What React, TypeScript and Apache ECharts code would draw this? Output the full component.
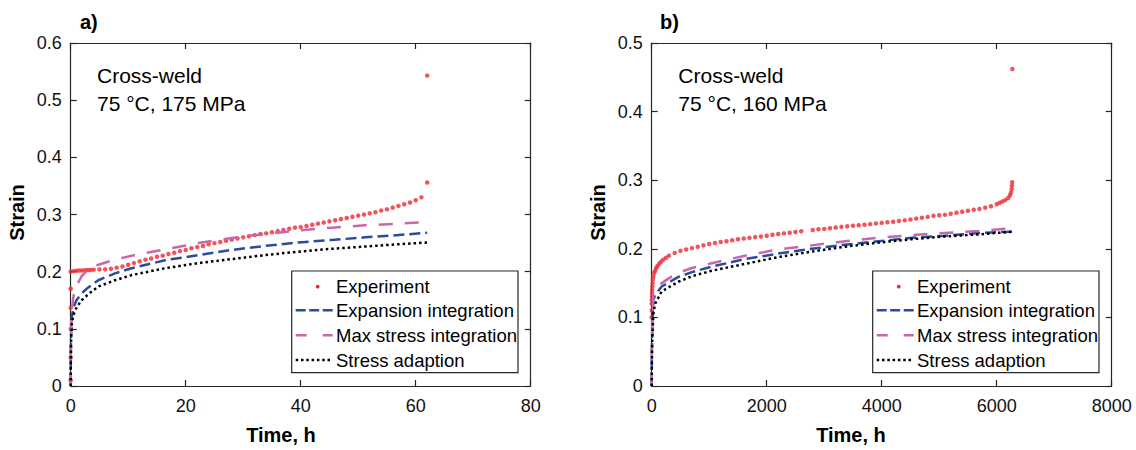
import React, { useEffect, useRef } from "react";
import * as echarts from "echarts";

// ---------- Data: panel a) 75 °C, 175 MPa ----------
const expA: [number, number][] = [
  [0, 0.01], [0, 0.05], [0, 0.1], [0, 0.137], [0, 0.17], [0, 0.2],
  [0.5, 0.201], [1, 0.2015], [1.5, 0.202], [2, 0.202], [2.5, 0.2025], [3, 0.203],
  [3.5, 0.203], [4, 0.2035], [5, 0.204], [6, 0.204], [7, 0.205], [8, 0.207],
  [9, 0.209], [10, 0.212], [11, 0.215], [12, 0.218], [13, 0.221], [14, 0.223],
  [15, 0.226], [16, 0.228], [17, 0.231], [18, 0.233], [19, 0.236], [20, 0.238],
  [21, 0.241], [22, 0.243], [23, 0.245], [24, 0.248], [25, 0.25], [26, 0.252],
  [27, 0.254], [28, 0.256], [29, 0.258], [30, 0.26], [31, 0.262], [32, 0.264],
  [33, 0.266], [34, 0.267], [35, 0.269], [36, 0.271], [37, 0.273], [38, 0.275],
  [39, 0.277], [40, 0.278], [41, 0.28], [42, 0.282], [43, 0.284], [44, 0.286],
  [45, 0.288], [46, 0.29], [47, 0.292], [48, 0.294], [49, 0.296], [50, 0.298],
  [51, 0.3], [52, 0.302], [53, 0.304], [54, 0.307], [55, 0.309], [56, 0.312],
  [57, 0.315], [58, 0.318], [59, 0.321], [60, 0.325], [61, 0.33], [62, 0.356],
  [62, 0.543],
];
const expansionA: [number, number][] = [
  [0, 0], [0.02, 0.05], [0.05, 0.08], [0.1, 0.1], [0.2, 0.121], [0.5, 0.138],
  [1, 0.15], [1.9, 0.162], [3, 0.172], [4.8, 0.185], [7.7, 0.197], [10.6, 0.206],
  [16.4, 0.22], [22.2, 0.229], [28, 0.238], [33.8, 0.245], [39.6, 0.251],
  [45.4, 0.2555], [51.2, 0.26], [57, 0.264], [62, 0.268],
];
const maxStressA: [number, number][] = [
  [0, 0], [0.02, 0.06], [0.05, 0.09], [0.1, 0.115], [0.2, 0.135], [0.5, 0.158],
  [1, 0.175], [1.9, 0.192], [3, 0.203], [4.8, 0.212], [7.7, 0.221], [10.6, 0.228],
  [16.4, 0.239], [22.2, 0.25], [28, 0.259], [33.8, 0.266], [39.6, 0.272],
  [45.4, 0.277], [51.2, 0.281], [57, 0.284], [62, 0.287],
];
const adaptionA: [number, number][] = [
  [0, 0], [0.02, 0.04], [0.05, 0.07], [0.1, 0.09], [0.2, 0.11], [0.5, 0.125],
  [1, 0.137], [1.9, 0.15], [3, 0.16], [4.8, 0.174], [7.7, 0.185], [10.6, 0.194],
  [16.4, 0.206], [22.2, 0.215], [28, 0.222], [33.8, 0.229], [39.6, 0.235],
  [45.4, 0.24], [51.2, 0.244], [57, 0.248], [62, 0.251],
];

// ---------- Data: panel b) 75 °C, 160 MPa ----------
const expB: [number, number][] = [
  [0, 0.1], [1, 0.11], [1, 0.12], [2, 0.125], [4, 0.13], [6, 0.135], [8, 0.14],
  [10, 0.145], [15, 0.15], [20, 0.155], [30, 0.16], [45, 0.165], [60, 0.168],
  [80, 0.172], [100, 0.175], [130, 0.178], [160, 0.181], [200, 0.184], [250, 0.187],
  [300, 0.19], [400, 0.194], [500, 0.197], [600, 0.199], [700, 0.201], [800, 0.203],
  [900, 0.205], [1000, 0.207], [1100, 0.2085], [1200, 0.21], [1300, 0.211],
  [1400, 0.2125], [1500, 0.214], [1600, 0.215], [1700, 0.216], [1800, 0.217],
  [1900, 0.218], [2000, 0.219], [2100, 0.2205], [2200, 0.2215], [2300, 0.2225],
  [2400, 0.2235], [2500, 0.2245], [2600, 0.2255], [2800, 0.2275], [2900, 0.2285],
  [3000, 0.229], [3100, 0.23], [3200, 0.231], [3300, 0.232], [3400, 0.2328],
  [3500, 0.2335], [3600, 0.2343], [3700, 0.235], [3800, 0.236], [3900, 0.237],
  [4000, 0.2378], [4100, 0.2386], [4200, 0.2395], [4300, 0.2405], [4400, 0.2415],
  [4500, 0.2428], [4600, 0.244], [4700, 0.2452], [4800, 0.2465], [4900, 0.248],
  [5000, 0.249], [5100, 0.2495], [5200, 0.251], [5300, 0.2525], [5400, 0.254],
  [5500, 0.2555], [5600, 0.257], [5700, 0.258], [5800, 0.26], [5900, 0.262],
  [6000, 0.265], [6050, 0.267], [6100, 0.269], [6150, 0.271], [6200, 0.274],
  [6230, 0.278], [6250, 0.282], [6260, 0.287], [6265, 0.292], [6270, 0.297],
  [6272, 0.462],
];
const expansionB: [number, number][] = [
  [0, 0], [3, 0.05], [10, 0.08], [28, 0.125], [60, 0.133], [174, 0.145],
  [318, 0.152], [464, 0.159], [700, 0.166], [1043, 0.174], [1623, 0.185],
  [2203, 0.193], [2783, 0.2], [3362, 0.206], [3942, 0.211], [4522, 0.216],
  [5101, 0.219], [5681, 0.223], [6280, 0.225],
];
const maxStressB: [number, number][] = [
  [0, 0], [3, 0.055], [10, 0.09], [28, 0.133], [60, 0.138], [174, 0.15],
  [318, 0.158], [464, 0.165], [700, 0.172], [1043, 0.179], [1623, 0.19],
  [2203, 0.199], [2783, 0.205], [3362, 0.211], [3942, 0.216], [4522, 0.22],
  [5101, 0.223], [5681, 0.226], [6280, 0.23],
];
const adaptionB: [number, number][] = [
  [0, 0], [3, 0.04], [10, 0.07], [28, 0.105], [60, 0.12], [174, 0.138],
  [318, 0.145], [464, 0.152], [700, 0.16], [1043, 0.168], [1623, 0.178],
  [2203, 0.188], [2783, 0.196], [3362, 0.203], [3942, 0.209], [4522, 0.214],
  [5101, 0.218], [5681, 0.221], [6280, 0.225],
];

const legendNames = ["Experiment", "Expansion integration", "Max stress integration", "Stress adaption"];
const panelLabels = ["a)", "b)"];
const annotA = ["Cross-weld", "75 °C, 175 MPa"];
const annotB = ["Cross-weld", "75 °C, 160 MPa"];
const xTitle = "Time, h";
const yTitle = "Strain";

const RED = "#ec2a35";
const BLUE = "#2a4c9c";
const PINK = "#c867aa";
const BLACK = "#000000";
const AXIS = "#262626";
const FONT = "'Liberation Sans', Arial, sans-serif";

export default function App() {
  const ref = useRef<HTMLDivElement>(null);
  useEffect(() => {
    if (!ref.current) return;
    const chart = echarts.init(ref.current, undefined, { renderer: "svg" });

    const grids = [
      { left: 70.7, top: 43, width: 460, height: 343 },
      { left: 651.7, top: 43, width: 460, height: 343 },
    ];
    const yFmt = (v: number) => (v === 0 ? "0" : v.toFixed(1));
    const xFmt = (v: number) => String(v);

    const bottomX = (gi: number, max: number, interval: number) => ({
      type: "value", gridIndex: gi, position: "bottom", min: 0, max, interval,
      axisLine: { show: true, onZero: false, lineStyle: { color: AXIS, width: 1.2 } },
      axisTick: { show: true, inside: true, length: 6, lineStyle: { color: AXIS, width: 1.2 } },
      axisLabel: { show: true, margin: 11, fontSize: 18, color: "#111", fontFamily: FONT, formatter: xFmt },
      splitLine: { show: false },
    });
    const topX = (gi: number, max: number, interval: number) => ({
      type: "value", gridIndex: gi, position: "top", min: 0, max, interval,
      axisLine: { show: true, onZero: false, lineStyle: { color: AXIS, width: 1.2 } },
      axisTick: { show: true, inside: true, length: 6, lineStyle: { color: AXIS, width: 1.2 } },
      axisLabel: { show: false }, splitLine: { show: false },
    });
    const leftY = (gi: number, max: number) => ({
      type: "value", gridIndex: gi, position: "left", min: 0, max, interval: 0.1,
      axisLine: { show: true, onZero: false, lineStyle: { color: AXIS, width: 1.2 } },
      axisTick: { show: true, inside: true, length: 6, lineStyle: { color: AXIS, width: 1.2 } },
      axisLabel: { show: true, margin: 9, fontSize: 18, color: "#111", fontFamily: FONT, formatter: yFmt },
      splitLine: { show: false },
    });
    const rightY = (gi: number, max: number) => ({
      type: "value", gridIndex: gi, position: "right", min: 0, max, interval: 0.1,
      axisLine: { show: true, onZero: false, lineStyle: { color: AXIS, width: 1.2 } },
      axisTick: { show: true, inside: true, length: 6, lineStyle: { color: AXIS, width: 1.2 } },
      axisLabel: { show: false }, splitLine: { show: false },
    });

    const lineSeries = (name: string, data: [number, number][], ax: number, color: string, dash: number[]) => ({
      name, type: "line", xAxisIndex: ax, yAxisIndex: ax, data,
      showSymbol: false, symbol: "none", smooth: false,
      lineStyle: { color, width: 2.5, type: dash, cap: "butt" },
      z: 3,
    });
    const scatterSeries = (name: string, data: [number, number][], ax: number) => ({
      name, type: "scatter", xAxisIndex: ax, yAxisIndex: ax, data,
      symbol: "circle", symbolSize: 4.5, itemStyle: { color: RED }, z: 2,
    });

    const series = [
      scatterSeries(legendNames[0], expA, 0),
      lineSeries(legendNames[1], expansionA, 0, BLUE, [11, 5]),
      lineSeries(legendNames[2], maxStressA, 0, PINK, [14, 12]),
      lineSeries(legendNames[3], adaptionA, 0, BLACK, [2.5, 3]),
      scatterSeries(legendNames[0], expB, 2),
      lineSeries(legendNames[1], expansionB, 2, BLUE, [11, 5]),
      lineSeries(legendNames[2], maxStressB, 2, PINK, [14, 12]),
      lineSeries(legendNames[3], adaptionB, 2, BLACK, [2.5, 3]),
    ];

    const textEl = (text: string, x: number, y: number, size: number, bold: boolean, align = "left", rotation = 0) => ({
      type: "text", x, y, rotation, z: 100,
      style: { text, fill: "#000", font: `${bold ? "bold " : ""}${size}px ${FONT}`, align, verticalAlign: "middle" },
    });

    const legendBlock = (bx: number, by: number) => {
      const rowY = [by + 15.7, by + 39.3, by + 64.3, by + 89];
      const iconL = bx + 4, iconR = bx + 41;
      const tx = bx + 44.3;
      return [
        { type: "rect", z: 90, shape: { x: bx, y: by, width: 226.3, height: 101.7 },
          style: { fill: "#fff", stroke: AXIS, lineWidth: 1.2 } },
        { type: "circle", z: 95, shape: { cx: bx + 26, cy: rowY[0], r: 1.9 }, style: { fill: RED } },
        { type: "line", z: 95, shape: { x1: iconL, y1: rowY[1], x2: iconR, y2: rowY[1] },
          style: { stroke: BLUE, lineWidth: 2.5, lineDash: [10, 3.5] } },
        { type: "line", z: 95, shape: { x1: iconL, y1: rowY[2], x2: iconR, y2: rowY[2] },
          style: { stroke: PINK, lineWidth: 2.5, lineDash: [11, 16] } },
        { type: "line", z: 95, shape: { x1: iconL, y1: rowY[3], x2: iconR, y2: rowY[3] },
          style: { stroke: BLACK, lineWidth: 2.5, lineDash: [2.5, 2.8] } },
        ...legendNames.map((n, i) => textEl(n, tx, rowY[i], 18.5, false)),
      ];
    };

    const graphic = [
      textEl(panelLabels[0], 80, 21.7, 20, true),
      textEl(panelLabels[1], 660, 21.7, 20, true),
      textEl(annotA[0], 97, 75.5, 21, false),
      textEl(annotA[1], 97, 103.5, 21, false),
      textEl(annotB[0], 678.3, 75.5, 21, false),
      textEl(annotB[1], 678.3, 103.5, 21, false),
      textEl(xTitle, 281, 435, 20, true, "center"),
      textEl(xTitle, 851, 435, 20, true, "center"),
      textEl(yTitle, 16.7, 212.5, 20, true, "center", Math.PI / 2),
      textEl(yTitle, 597.7, 212.5, 20, true, "center", Math.PI / 2),
      ...legendBlock(291.7, 271),
      ...legendBlock(872.7, 271),
    ];

    chart.setOption({
      animation: false,
      backgroundColor: "#ffffff",
      textStyle: { fontFamily: FONT },
      grid: grids.map((g) => ({ ...g, containLabel: false, outerBoundsMode: "none" })),
      xAxis: [bottomX(0, 80, 20), topX(0, 80, 20), bottomX(1, 8000, 2000), topX(1, 8000, 2000)],
      yAxis: [leftY(0, 0.6), rightY(0, 0.6), leftY(1, 0.5), rightY(1, 0.5)],
      series,
      graphic,
    } as any);

    return () => chart.dispose();
  }, []);

  return (
    <div
      ref={ref}
      style={{ position: "absolute", left: 0, top: 0, width: 1136, height: 450, background: "#fff" }}
    />
  );
}
